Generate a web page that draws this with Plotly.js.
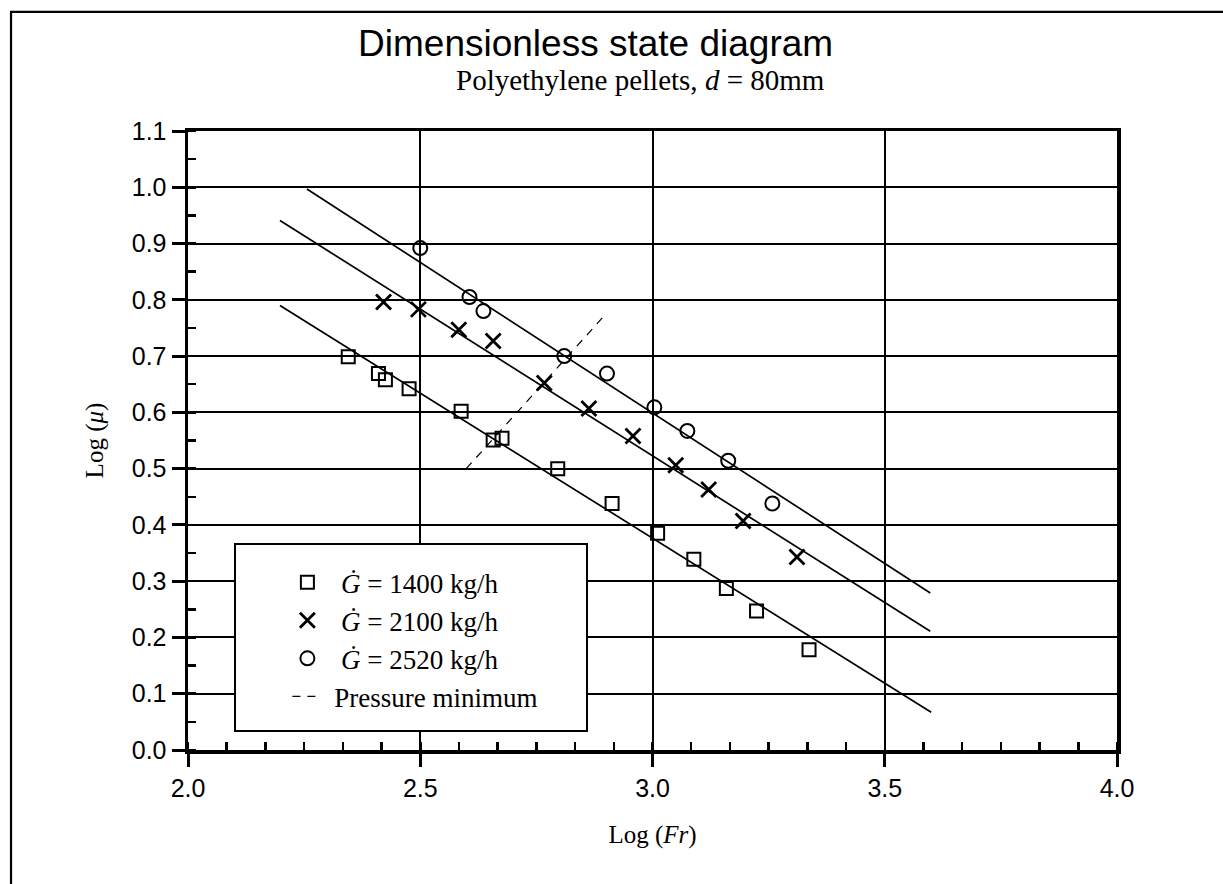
<!DOCTYPE html>
<html>
<head>
<meta charset="utf-8">
<script src="https://cdn.plot.ly/plotly-3.0.1.min.js"></script>
<style>
  html, body { margin: 0; padding: 0; background: #fff; }
  #chart { width: 1223px; height: 884px; }
</style>
</head>
<body>
<div id="chart"></div>
<script>
// Measured points: log Froude number vs log pressure-drop ratio
const fr1400 = [2.345, 2.410, 2.425, 2.476, 2.588, 2.657, 2.676, 2.796, 2.913, 3.011, 3.089, 3.159, 3.224, 3.337];
const mu1400 = [0.699, 0.669, 0.658, 0.642, 0.602, 0.551, 0.554, 0.500, 0.438, 0.385, 0.339, 0.287, 0.247, 0.178];

const fr2100 = [2.421, 2.496, 2.583, 2.657, 2.767, 2.863, 2.958, 3.050, 3.121, 3.195, 3.311];
const mu2100 = [0.796, 0.783, 0.747, 0.727, 0.652, 0.607, 0.558, 0.506, 0.463, 0.407, 0.343];

const fr2520 = [2.500, 2.606, 2.636, 2.810, 2.902, 3.004, 3.075, 3.163, 3.258];
const mu2520 = [0.892, 0.805, 0.780, 0.700, 0.669, 0.609, 0.567, 0.514, 0.438];

// Straight-line fits for each mass flow
const fit1400X = [2.198, 3.600];
const fit1400Y = [0.790, 0.067];
const fit2100X = [2.198, 3.598];
const fit2100Y = [0.941, 0.211];
const fit2520X = [2.256, 3.598];
const fit2520Y = [0.997, 0.279];

// Locus of the pressure minimum
const pminX = [2.599, 2.902];
const pminY = [0.500, 0.777];

const xTicks = [2.0, 2.5, 3.0, 3.5, 4.0];
const xTickText = ['2.0', '2.5', '3.0', '3.5', '4.0'];
const yTicks = [0.0, 0.1, 0.2, 0.3, 0.4, 0.5, 0.6, 0.7, 0.8, 0.9, 1.0, 1.1];
const yTickText = ['0.0', '0.1', '0.2', '0.3', '0.4', '0.5', '0.6', '0.7', '0.8', '0.9', '1.0', '1.1'];

const seriesNames = [
  '\u00a0\u00a0<i>\u0120</i> = 1400 kg/h',
  '\u00a0\u00a0<i>\u0120</i> = 2100 kg/h',
  '\u00a0\u00a0<i>\u0120</i> = 2520 kg/h',
  '\u00a0Pressure minimum'
];

const SERIF = 'Liberation Serif, Times New Roman, serif';
const SANS = 'Liberation Sans, Arial, sans-serif';

const fitLine = { color: '#000', width: 1.7 };

const traces = [
  { x: fit1400X, y: fit1400Y, mode: 'lines', line: fitLine, showlegend: false, hoverinfo: 'skip' },
  { x: fit2100X, y: fit2100Y, mode: 'lines', line: fitLine, showlegend: false, hoverinfo: 'skip' },
  { x: fit2520X, y: fit2520Y, mode: 'lines', line: fitLine, showlegend: false, hoverinfo: 'skip' },
  {
    x: fr1400, y: mu1400, mode: 'markers', name: seriesNames[0], legendgroup: 'a',
    marker: { symbol: 'square-open', size: 13, color: '#000', line: { width: 2 } }
  },
  {
    x: fr2100, y: mu2100, mode: 'markers', name: seriesNames[1], legendgroup: 'b',
    marker: { symbol: 'x-thin-open', size: 15, color: '#000', line: { width: 2.8 } }
  },
  {
    x: fr2520, y: mu2520, mode: 'markers', name: seriesNames[2], legendgroup: 'c',
    marker: { symbol: 'circle-open', size: 14, color: '#000', line: { width: 2 } }
  },
  {
    x: pminX, y: pminY, mode: 'lines', name: seriesNames[3], legendgroup: 'd',
    line: { color: '#000', width: 1.2, dash: '8px,7px' }
  }
];

const axisCommon = {
  showline: true,
  linecolor: '#000',
  linewidth: 3.5,
  mirror: true,
  ticks: 'outside',
  ticklen: 13,
  tickwidth: 3,
  tickcolor: '#000',
  showgrid: true,
  gridcolor: '#000',
  gridwidth: 2,
  zeroline: false,
  tickfont: { family: SANS, size: 25, color: '#000' },
  tickmode: 'array'
};

const layout = {
  width: 1223,
  height: 884,
  paper_bgcolor: '#fff',
  plot_bgcolor: '#fff',
  margin: { l: 188, r: 106, t: 131, b: 134 },
  showlegend: true,
  title: {
    text: 'Dimensionless state diagram',
    font: { family: SANS, size: 37, color: '#000' },
    x: 0.487, xref: 'container', xanchor: 'center',
    y: 0.951, yref: 'container', yanchor: 'middle'
  },
  xaxis: Object.assign({}, axisCommon, {
    range: [2.0, 4.0],
    tickvals: xTicks,
    ticktext: xTickText,
    minor: { dtick: 1 / 12, tick0: 2.0, ticks: 'inside', ticklen: 8, tickwidth: 2.5, tickcolor: '#000', showgrid: false },
    title: { text: 'Log (<i>Fr</i>)', font: { family: SERIF, size: 25, color: '#000' }, standoff: 26 }
  }),
  yaxis: Object.assign({}, axisCommon, {
    range: [0.0, 1.1],
    tickvals: yTicks,
    ticktext: yTickText,
    minor: { dtick: 0.05, tick0: 0, ticks: 'inside', ticklen: 8, tickwidth: 2.5, tickcolor: '#000', showgrid: false },
    title: { text: 'Log (<i>\u03bc</i>)', font: { family: SERIF, size: 25, color: '#000' }, standoff: 22 }
  }),
  legend: {
    x: 0.107, xanchor: 'left',
    y: 0.31, yanchor: 'top',
    bgcolor: 'rgba(0,0,0,0)',
    borderwidth: 0,
    font: { family: SERIF, size: 27, color: '#000' },
    traceorder: 'grouped',
    tracegroupgap: 0
  },
  shapes: [
    // legend frame
    {
      type: 'rect', xref: 'paper', yref: 'paper', layer: 'above',
      x0: 0.0506, x1: 0.4295, y0: 0.0307, y1: 0.3328,
      line: { color: '#000', width: 2 }, fillcolor: '#fff'
    },
    // outer figure frame
    {
      type: 'rect', xref: 'paper', yref: 'paper', layer: 'below',
      x0: -0.1905, x1: 1.3, y0: -0.4, y1: 1.1923,
      line: { color: '#000', width: 2.2 }, fillcolor: 'rgba(0,0,0,0)'
    }
  ],
  annotations: [
    {
      text: 'Polyethylene pellets, <i>d</i> = 80mm',
      xref: 'paper', yref: 'paper',
      x: (640 - 188) / 929, y: (750 - 80) / 619,
      xanchor: 'center', yanchor: 'middle',
      showarrow: false,
      font: { family: SERIF, size: 29, color: '#000' }
    }
  ]
};

Plotly.newPlot('chart', traces, layout, { displayModeBar: false, staticPlot: true });
</script>
</body>
</html>
